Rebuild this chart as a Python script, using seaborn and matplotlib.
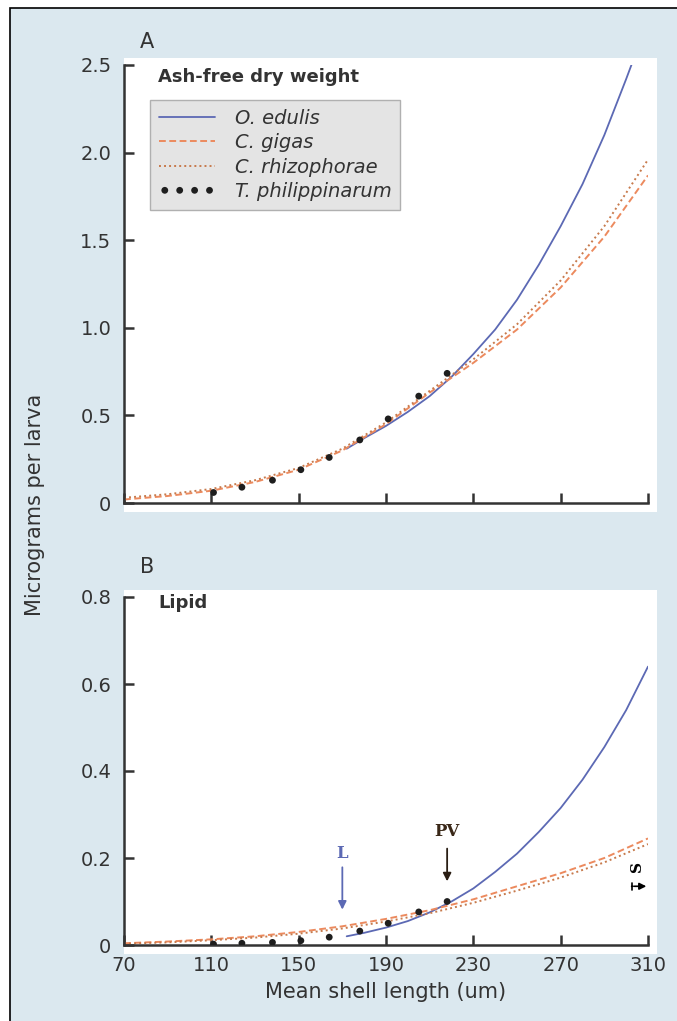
import matplotlib
matplotlib.use("Agg")
from matplotlib import pyplot as plt
from matplotlib.patches import Rectangle
import seaborn as sns

# Shell length grid (um) for the fitted curves
LEN_ALL = [70, 90, 110, 130, 150, 170, 190, 210, 230, 250, 270, 290, 310]
LEN_EDULIS_A = [172, 180, 190, 200, 210, 220, 230, 240, 250, 260, 270, 280, 290, 300, 303]
LEN_EDULIS_B = [172, 180, 190, 200, 210, 220, 230, 240, 250, 260, 270, 280, 290, 300, 310]

# Panel A: ash-free dry weight (ug per larva)
afdw_edulis = [0.31, 0.37, 0.44, 0.52, 0.61, 0.72, 0.85, 0.99, 1.16, 1.36, 1.58, 1.82, 2.10, 2.42, 2.52]
afdw_gigas = [0.02, 0.04, 0.07, 0.12, 0.19, 0.30, 0.45, 0.63, 0.80, 0.99, 1.23, 1.52, 1.87]
afdw_rhizo = [0.03, 0.05, 0.08, 0.13, 0.20, 0.31, 0.46, 0.64, 0.82, 1.02, 1.27, 1.58, 1.96]

# Panel B: lipid (ug per larva)
lipid_edulis = [0.02, 0.028, 0.04, 0.055, 0.075, 0.10, 0.13, 0.168, 0.21, 0.26, 0.315, 0.38, 0.455, 0.54, 0.64]
lipid_gigas = [0.004, 0.008, 0.013, 0.02, 0.03, 0.043, 0.06, 0.08, 0.105, 0.135, 0.165, 0.20, 0.245]
lipid_rhizo = [0.003, 0.006, 0.011, 0.017, 0.026, 0.038, 0.054, 0.073, 0.097, 0.125, 0.155, 0.19, 0.232]

# T. philippinarum points
phil_len = [111, 124, 138, 151, 164, 178, 191, 205, 218]
phil_afdw = [0.06, 0.09, 0.13, 0.19, 0.26, 0.36, 0.48, 0.61, 0.74]
phil_lipid = [0.002, 0.004, 0.006, 0.01, 0.018, 0.032, 0.05, 0.076, 0.10]

X_TICKS = [70, 110, 150, 190, 230, 270, 310]
A_TICKS = [0, 0.5, 1.0, 1.5, 2.0, 2.5]
A_LABELS = ["0", "0.5", "1.0", "1.5", "2.0", "2.5"]
B_TICKS = [0, 0.2, 0.4, 0.6, 0.8]
B_LABELS = ["0", "0.2", "0.4", "0.6", "0.8"]

BG = "#dbe8ef"
INK = "#333333"
BLUE = "#5c69b4"
ORANGE = "#ec8a5e"
BROWN = "#c77a4c"

sns.set_style("ticks")
plt.rcParams["font.family"] = ["DejaVu Sans"]

W, H = 677, 1021
fig = plt.figure(figsize=(W / 100, H / 100), dpi=100)
fig.patch.set_facecolor("white")
fig.add_artist(Rectangle((10 / W, -0.1), 1.2, 1.1 - 8 / H, transform=fig.transFigure,
                         facecolor=BG, edgecolor="black", lw=1.2, zorder=-2))

axA = fig.add_axes([124 / W, 1 - 503 / H, 524 / W, 438 / H])
axB = fig.add_axes([124 / W, 1 - 945 / H, 524 / W, 348 / H])

# white plot backgrounds slightly larger than axes
for top, bot in [(58, 512), (590, 954)]:
    fig.add_artist(Rectangle((124 / W, 1 - bot / H), 533 / W, (bot - top) / H,
                             transform=fig.transFigure, facecolor="white",
                             edgecolor="none", zorder=-1))


def draw(ax, len_edulis, edulis, gigas, rhizo, phil):
    sns.lineplot(x=len_edulis, y=edulis, ax=ax, color=BLUE, lw=1.3, label="O. edulis")
    sns.lineplot(x=LEN_ALL, y=gigas, ax=ax, color=ORANGE, lw=1.4,
                 label="C. gigas").lines[-1].set_dashes((3.5, 1.8))
    sns.lineplot(x=LEN_ALL, y=rhizo, ax=ax, color=BROWN, lw=1.4,
                 label="C. rhizophorae").lines[-1].set_dashes((1, 1.6))
    sns.scatterplot(x=phil_len, y=phil, ax=ax, color="#1e1e1e", s=24,
                    edgecolor="none", label="T. philippinarum", zorder=5)
    ax.set_facecolor("white")
    ax.set_xlim(70, 310)
    ax.set_xticks(X_TICKS)
    for s in ["top", "right"]:
        ax.spines[s].set_visible(False)
    for s in ["left", "bottom"]:
        ax.spines[s].set_color(INK)
        ax.spines[s].set_linewidth(1.8)
    ax.tick_params(direction="in", length=7, width=1.8, color=INK,
                   labelsize=14, labelcolor=INK)
    ax.tick_params(axis="y", pad=9)
    ax.tick_params(axis="x", pad=8)
    ax.set_xlabel("")
    ax.set_ylabel("")


draw(axA, LEN_EDULIS_A, afdw_edulis, afdw_gigas, afdw_rhizo, phil_afdw)
draw(axB, LEN_EDULIS_B, lipid_edulis, lipid_gigas, lipid_rhizo, phil_lipid)

axA.set_ylim(0, 2.5)
axA.set_yticks(A_TICKS, A_LABELS)
axA.set_xticklabels([])
axB.set_ylim(0, 0.8)
axB.set_yticks(B_TICKS, B_LABELS)
axB.set_xticklabels([str(t) for t in X_TICKS])

leg = axA.legend(loc="upper left", bbox_to_anchor=(0.05, 0.92), borderaxespad=0,
                 frameon=True, fancybox=False, facecolor="#e4e4e4", edgecolor="#b0b0b0",
                 framealpha=1, prop={"style": "italic", "size": 14},
                 handlelength=2.9, handletextpad=1.0, labelspacing=0.28,
                 borderpad=0.45, scatterpoints=4, scatteryoffsets=[0.5])
for t in leg.get_texts():
    t.set_color(INK)
axB.get_legend().remove()

axA.text(0.065, 0.973, "Ash-free dry weight", transform=axA.transAxes,
         fontsize=13, fontweight="bold", color=INK, va="center")
axB.text(0.065, 0.983, "Lipid", transform=axB.transAxes,
         fontsize=13, fontweight="bold", color=INK, va="center")

axA.text(0.03, 1.052, "A", transform=axA.transAxes, fontsize=15, color=INK, va="center")
axB.text(0.03, 1.086, "B", transform=axB.transAxes, fontsize=15, color=INK, va="center")

fig.text(35 / W, 1 - 505 / H, "Micrograms per larva", rotation=90, fontsize=15,
         color=INK, ha="center", va="center")
axB.set_xlabel("Mean shell length (um)", fontsize=15, color=INK, labelpad=5)

# stage markers
serif = ["DejaVu Serif"]
axB.annotate("", xy=(170, 0.075), xytext=(170, 0.185),
             arrowprops=dict(arrowstyle="-|>", color=BLUE, lw=1.3, mutation_scale=12))
axB.text(170, 0.21, "L", color=BLUE, family=serif, fontweight="bold",
         fontsize=12, ha="center", va="center")
axB.annotate("", xy=(218, 0.14), xytext=(218, 0.228),
             arrowprops=dict(arrowstyle="-|>", color="#2a1e14", lw=1.3, mutation_scale=12))
axB.text(218, 0.26, "PV", color="#3a2818", family=serif, fontweight="bold",
         fontsize=12, ha="center", va="center")
axB.annotate("", xy=(310.5, 0.135), xytext=(302.5, 0.135), annotation_clip=False,
             arrowprops=dict(arrowstyle="-|>", color="black", lw=1.2, mutation_scale=10))
axB.annotate("", xy=(303.2, 0.135), xytext=(302.5, 0.135), annotation_clip=False,
             arrowprops=dict(arrowstyle="|-|, widthA=0.25, widthB=0.0", color="black", lw=1.2))
axB.text(305, 0.18, "S", color="black", family=serif, fontweight="bold",
         fontsize=11, ha="center", va="center", rotation=90)

fig.savefig("out.png", dpi=100, facecolor=fig.get_facecolor())
